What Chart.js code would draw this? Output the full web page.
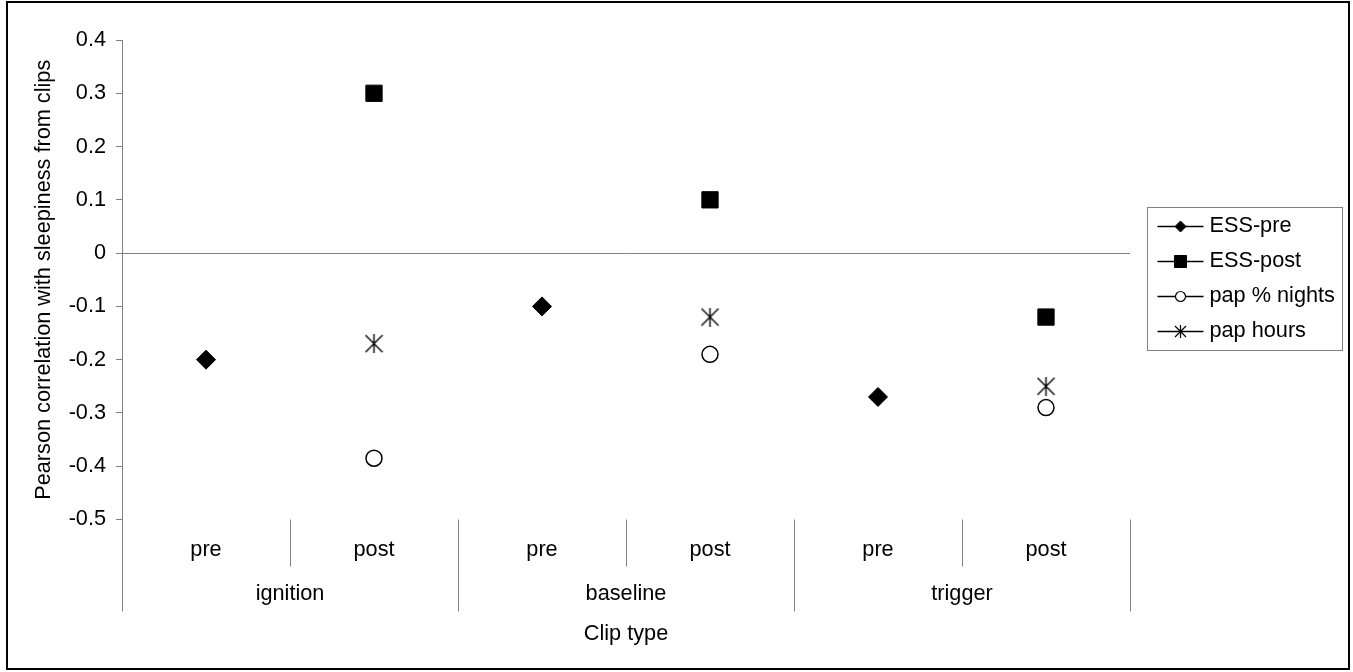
<!DOCTYPE html>
<html>
<head>
<meta charset="utf-8">
<script src="https://cdn.jsdelivr.net/npm/chart.js@4.4.1/dist/chart.umd.min.js"></script>
<style>
  html, body { margin: 0; padding: 0; background: #fff; }
  canvas { display: block; }
</style>
</head>
<body>
<canvas id="chart" width="1353" height="672"></canvas>
<script>
const clipLabels = ['pre', 'post', 'pre', 'post', 'pre', 'post'];
const clipGroups = ['ignition', 'baseline', 'trigger'];
const yMin = -0.5;
const yMax = 0.4;
const yStep = 0.1;

const essPre = [-0.20, null, -0.10, null, -0.27, null];
const essPost = [null, 0.30, null, 0.10, null, -0.12];
const papNights = [null, -0.385, null, -0.19, null, -0.29];
const papHours = [null, -0.17, null, -0.12, null, -0.25];

const FONT = '"Liberation Sans", Arial, sans-serif';
const FONT_SIZE = 21.7;
const AXIS_GREY = '#808080';

// asterisk marker: vertical stroke plus an X, as Excel draws it
function asterisk(size, lw) {
  const c = document.createElement('canvas');
  c.width = size; c.height = size;
  const g = c.getContext('2d');
  g.strokeStyle = '#000';
  g.lineWidth = lw;
  g.beginPath();
  g.moveTo(size / 2, 0); g.lineTo(size / 2, size);
  g.moveTo(1, 1); g.lineTo(size - 1, size - 1);
  g.moveTo(size - 1, 1); g.lineTo(1, size - 1);
  g.stroke();
  return c;
}

const starBig = asterisk(19, 1.4);
const starSmall = asterisk(13, 1.2);

const legendStyles = [
  { pointStyle: 'rectRot', radius: 5.5, fill: '#000', borderWidth: 1 },
  { pointStyle: 'rect', radius: 8.5, fill: '#000', borderWidth: 1 },
  { pointStyle: 'circle', radius: 5, fill: '#fff', borderWidth: 1.2 },
  { pointStyle: starSmall, radius: 6, fill: '#000', borderWidth: 1 }
];

const excelDecor = {
  id: 'excelDecor',
  beforeDraw(chart) {
    const { ctx, width, height } = chart;
    ctx.save();
    ctx.fillStyle = '#fff';
    ctx.fillRect(0, 0, width, height);
    ctx.strokeStyle = '#000';
    ctx.lineWidth = 2;
    ctx.strokeRect(7, 2, 1342, 667);
    ctx.restore();
  },
  afterDraw(chart) {
    const { ctx, chartArea, scales: { x } } = chart;
    const half = x.width / clipLabels.length / 2;
    ctx.save();

    // category boundary lines below the plot
    ctx.strokeStyle = AXIS_GREY;
    ctx.lineWidth = 1;
    ctx.beginPath();
    for (let i = 0; i <= clipLabels.length; i++) {
      const px = Math.round(x.getPixelForValue(Math.min(i, clipLabels.length - 1)) + (i === clipLabels.length ? half : -half)) + 0.5;
      const major = i % 2 === 0;
      ctx.moveTo(px, chartArea.bottom);
      ctx.lineTo(px, chartArea.bottom + (major ? 92 : 47));
    }
    ctx.stroke();

    // group labels
    ctx.fillStyle = '#000';
    ctx.font = FONT_SIZE + 'px ' + FONT;
    ctx.textAlign = 'center';
    ctx.textBaseline = 'middle';
    clipGroups.forEach((name, k) => {
      const cx = (x.getPixelForValue(2 * k) + x.getPixelForValue(2 * k + 1)) / 2;
      ctx.fillText(name, cx, chartArea.bottom + 75);
    });

    // legend
    const box = { left: 1147.5, top: 207.5, w: 195, h: 143 };
    ctx.strokeStyle = AXIS_GREY;
    ctx.strokeRect(box.left, box.top, box.w, box.h);
    ctx.textAlign = 'left';
    chart.data.datasets.forEach((ds, i) => {
      const y = box.top + 19 + i * 35;
      const st = legendStyles[i];
      ctx.strokeStyle = '#000';
      ctx.lineWidth = 1.3;
      ctx.beginPath();
      ctx.moveTo(box.left + 10, y);
      ctx.lineTo(box.left + 56, y);
      ctx.stroke();
      ctx.fillStyle = st.fill;
      ctx.strokeStyle = '#000';
      ctx.lineWidth = st.borderWidth;
      Chart.helpers.drawPoint(ctx, { pointStyle: st.pointStyle, radius: st.radius, rotation: 0, borderWidth: st.borderWidth }, box.left + 33, y);
      ctx.fillStyle = '#000';
      ctx.fillText(ds.label, box.left + 62, y);
    });
    ctx.restore();
  }
};

new Chart(document.getElementById('chart'), {
  type: 'line',
  data: {
    labels: clipLabels,
    datasets: [
      { label: 'ESS-pre', data: essPre, pointStyle: 'rectRot', pointRadius: 9.5, backgroundColor: '#000', borderColor: '#000', pointBorderWidth: 1 },
      { label: 'ESS-post', data: essPost, pointStyle: 'rect', pointRadius: 11.5, backgroundColor: '#000', borderColor: '#000', pointBorderWidth: 1 },
      { label: 'pap % nights', data: papNights, pointStyle: 'circle', pointRadius: 8, backgroundColor: '#fff', borderColor: '#000', pointBorderWidth: 1.5 },
      { label: 'pap hours', data: papHours, pointStyle: starBig, pointRadius: 9, backgroundColor: '#000', borderColor: '#000', pointBorderWidth: 1 }
    ]
  },
  options: {
    responsive: false,
    animation: false,
    events: [],
    showLine: false,
    layout: { padding: { left: 0, top: 40, right: 223, bottom: 0 } },
    plugins: { legend: { display: false }, tooltip: { enabled: false } },
    scales: {
      x: {
        offset: true,
        grid: { display: false, drawTicks: false },
        border: { display: false },
        ticks: { color: '#000', font: { family: FONT, size: FONT_SIZE }, padding: 18, maxRotation: 0, autoSkip: false },
        title: { display: true, text: 'Clip type', color: '#000', font: { family: FONT, size: FONT_SIZE }, padding: { top: 0, bottom: 25 } },
        afterFit: scale => { scale.height = 152.5; }
      },
      y: {
        min: yMin,
        max: yMax,
        ticks: {
          stepSize: yStep,
          color: '#000',
          font: { family: FONT, size: FONT_SIZE },
          padding: 10,
          callback: v => String(Math.round(v * 10) / 10)
        },
        grid: {
          color: ctx => (ctx.tick && Math.abs(ctx.tick.value) < 1e-9 ? AXIS_GREY : 'transparent'),
          tickColor: AXIS_GREY,
          tickLength: 6,
          lineWidth: 1
        },
        border: { display: true, color: AXIS_GREY, width: 1 },
        title: { display: true, text: 'Pearson correlation with sleepiness from clips', color: '#000', font: { family: FONT, size: FONT_SIZE }, padding: { top: 31, bottom: 0 } },
        afterFit: scale => { scale.width = 122; }
      }
    }
  },
  plugins: [excelDecor]
});
</script>
</body>
</html>
